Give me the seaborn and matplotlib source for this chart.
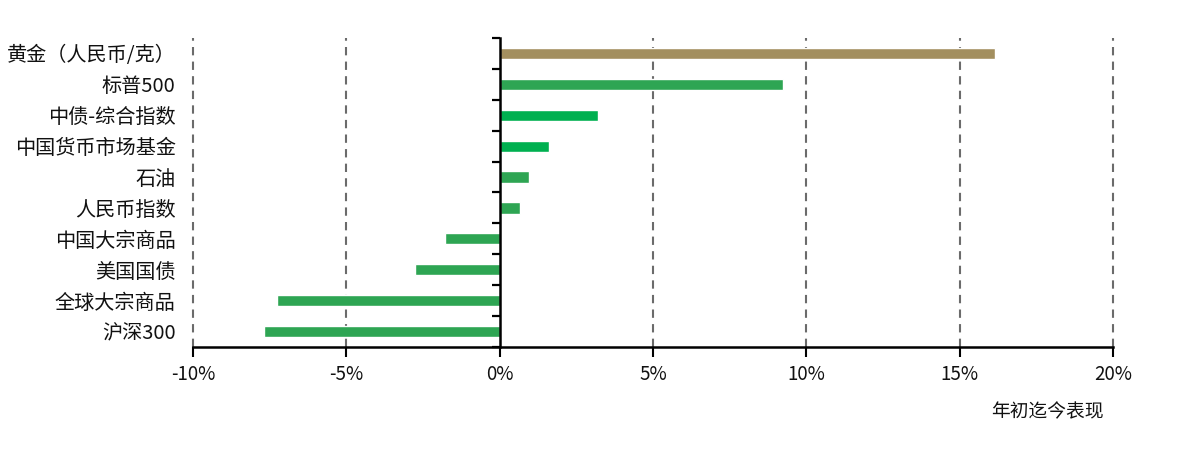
import pandas as pd
import seaborn as sns
import matplotlib.pyplot as plt
from matplotlib.ticker import FixedLocator, PercentFormatter

# data (year-to-date performance, %)
assets = ['黄金（人民币/克）', '标普500', '中债-综合指数', '中国货币市场基金', '石油',
          '人民币指数', '中国大宗商品', '美国国债', '全球大宗商品', '沪深300']
ytd = [16.15, 9.25, 3.2, 1.6, 0.95, 0.67, -1.77, -2.75, -7.25, -7.7]
bar_colors = ['#A38F5F', '#2EA553', '#00B050', '#00B050', '#2EA553',
              '#2EA553', '#2EA553', '#2EA553', '#2EA553', '#2EA553']
xticks = [-10, -5, 0, 5, 10, 15, 20]

df = pd.DataFrame({'asset': assets, 'ytd': ytd})

sns.set_style('white')
plt.rcParams['font.family'] = ['Noto Sans CJK SC', 'DejaVu Sans']
plt.rcParams['axes.unicode_minus'] = False

fig = plt.figure(figsize=(11.8, 4.5), dpi=100)
ax = fig.add_axes([0.1636, 0.2289, 0.7796, 0.6867])

sns.barplot(data=df, x='ytd', y='asset', hue='asset', palette=bar_colors,
            legend=False, orient='h', width=0.36, saturation=1, ax=ax)

ax.set_xlim(-10, 20)
ax.set_ylim(9.5, -0.5)
ax.set_xticks(xticks)
ax.xaxis.set_major_formatter(PercentFormatter(decimals=0))

# dashed vertical grid
for x in xticks:
    if x != 0:
        ax.axvline(x, color='#6b6b6b', linestyle=(0, (4, 3)), linewidth=1.5,
                   zorder=0, clip_on=False)

# spines: bottom axis + zero line with tick marks between categories
for s in ['top', 'left']:
    ax.spines[s].set_visible(False)
ax.spines['right'].set_position(('data', 0))
ax.spines['right'].set_linewidth(1.8)
ax.spines['right'].set_color('black')
ax.spines['bottom'].set_linewidth(1.8)
ax.spines['bottom'].set_color('black')

ax.yaxis.set_minor_locator(FixedLocator([i - 0.5 for i in range(len(assets) + 1)]))
ax.tick_params(axis='y', which='major', left=False, right=False, labelleft=True,
               labelright=False, pad=9, labelsize=14.5, labelcolor='#111111')
ax.tick_params(axis='y', which='minor', left=False, right=True, direction='in',
               length=6, width=1.6, color='black')
ax.tick_params(axis='x', which='major', bottom=True, direction='out', length=7,
               width=1.5, color='black', pad=5, labelsize=13.5, labelcolor='#111111')

ax.set_ylabel('')
ax.set_xlabel('年初迄今表现', loc='right', fontsize=13.5, color='#111111', labelpad=12)
ax.xaxis.label.set_x(0.99)

fig.savefig('out.png', dpi=100)
